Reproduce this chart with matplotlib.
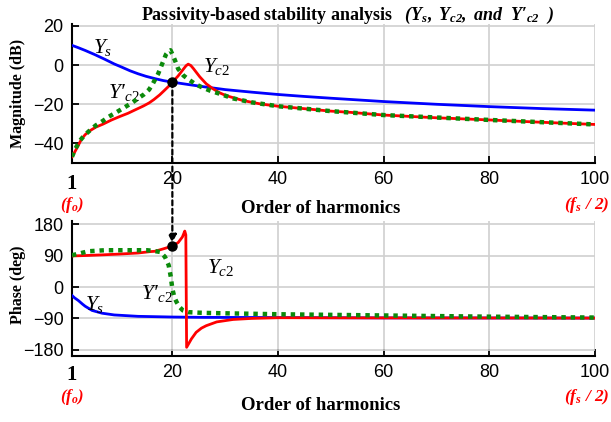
import matplotlib
matplotlib.use("Agg")
import matplotlib.pyplot as plt
from matplotlib.patches import ConnectionPatch

plt.rcParams['mathtext.fontset'] = 'custom'
plt.rcParams['mathtext.rm'] = 'Liberation Serif'
plt.rcParams['mathtext.it'] = 'Liberation Serif:italic'
plt.rcParams['mathtext.bf'] = 'Liberation Serif:bold'
plt.rcParams['mathtext.bfit'] = 'Liberation Serif:bold:italic'

# ---- data ----
ys_mag_h = [1, 2.2, 3.5, 5.3, 7.2, 9, 10.4, 12, 13.5, 15, 16.7, 18.3, 20, 23, 26.1, 30, 35, 40, 45, 50, 60, 70, 80, 90, 100]
ys_mag = [10.1, 8.9, 7.5, 5.4, 3.0, 0.6, -1.0, -2.9, -4.4, -5.7, -6.9, -7.9, -8.7, -9.9, -11.1, -12.5, -13.8, -15.0, -16.0, -16.9, -18.6, -20.0, -21.2, -22.2, -23.0]

yc2_mag_h = [1, 1.5, 2, 2.8, 3.5, 4.4, 5.5, 6.9, 8.5, 10, 11.6, 13, 14.5, 15.6, 16.5, 17.6, 18.5, 19.3, 20, 21.1, 22.1, 22.6, 23, 23.5, 24, 25.2, 26.4, 27.7, 29, 30.2, 33.4, 36.6, 40, 44, 50, 53.6, 60, 70, 80, 90, 100]
yc2_mag = [-46.8, -44.5, -42.0, -37.8, -35.5, -33.5, -31.7, -30.1, -28.0, -26.3, -24.6, -22.8, -20.9, -19.3, -17.6, -15.2, -12.9, -10.8, -8.7, -5.5, -2.0, -0.3, 0.5, -0.2, -1.8, -6.0, -9.5, -12.1, -14.2, -15.6, -18.1, -19.8, -21.0, -22.0, -23.5, -24.1, -25.5, -26.9, -28.0, -29.2, -30.3]

yc2p_mag_h = [1, 1.6, 2.5, 3.3, 4.4, 5.5, 6.9, 8, 9.4, 11, 12.5, 13.5, 14.6, 15.6, 16.3, 17.3, 18.2, 18.8, 19.3, 19.65, 20.1, 20.5, 21.1, 22.1, 23, 24.3, 25.5, 27.1, 28.7, 31.5, 35, 40, 50, 60, 80, 100]
yc2p_mag = [-46.8, -42.9, -38.6, -36.0, -33.3, -30.8, -28.4, -26.3, -24.1, -21.5, -19.0, -17.0, -15.0, -12.5, -9.5, -4.5, 1.5, 5.5, 7.2, 7.6, 5.0, 2.4, -1.9, -5.3, -7.2, -9.6, -11.2, -13.0, -14.4, -17.0, -19.0, -21.0, -23.5, -25.5, -28.0, -30.3]

ys_ph_h = [1, 1.5, 2.2, 3, 3.5, 4.8, 6.7, 9, 13.5, 20, 26, 40, 60, 100]
ys_ph = [-24, -31, -38.5, -49, -55, -67, -75, -80, -84, -86, -87, -87.5, -88.5, -89]

yc2_ph_h = [1, 4, 7.2, 10, 13.5, 15.8, 16.7, 18.3, 20, 21.1, 21.9, 22.35, 22.55, 22.7, 23.6, 24.5, 25.5, 26.4, 28.4, 31.5, 35, 40, 60, 100]
yc2_ph = [89.5, 91, 93, 95, 98, 102, 103, 110, 118, 128, 144, 161, 150, -173, -149, -130, -118, -111, -100, -93, -90, -88, -88.5, -89]

yc2p_ph_h = [1, 2.5, 4.1, 7.2, 13.5, 15.2, 16.5, 17.7, 18.6, 19.3, 19.7, 20.0, 20.4, 20.8, 21.4, 22, 23, 25.8, 29, 40, 60, 80, 100]
yc2p_ph = [91.5, 97, 103, 106, 106, 106, 104, 101, 87, 63, 30, -5, -30, -43, -58, -67, -72, -74, -75, -78, -81.5, -85, -87.5]

x_ticks = [20, 40, 60, 80, 100]
mag_ticks = [20, 0, -20, -40]
ph_ticks = [180, 90, 0, -90, -180]
h_mark = 20
mark_mag = -8.7
mark_ph = 118

# ---- figure ----
fig = plt.figure(figsize=(6.11, 4.22), dpi=100)
ax1 = fig.add_axes([0.1178, 0.6137, 0.8560, 0.3294])
ax2 = fig.add_axes([0.1178, 0.1564, 0.8560, 0.3199])

blue = '#0000ff'
red = '#ff0000'
green = '#0b8a0b'

def style(ax, yt, ylim):
    ax.set_xlim(1, 100)
    ax.set_ylim(*ylim)
    ax.set_xticks(x_ticks)
    ax.set_yticks(yt)
    ax.grid(True, color='#d0d0d0', lw=1.2)
    ax.set_axisbelow(True)
    for s in ['top', 'right']:
        ax.spines[s].set_visible(False)
    for s in ['left', 'bottom']:
        ax.spines[s].set_linewidth(1.5)
    ax.tick_params(direction='in', length=5, width=1.3, labelsize=13, pad=6)
    for lab in ax.get_xticklabels() + ax.get_yticklabels():
        lab.set_fontfamily('Liberation Sans')

style(ax1, mag_ticks, (-50, 21))
style(ax2, ph_ticks, (-198, 190))

ax1.plot(ys_mag_h, ys_mag, color=blue, lw=2.0, zorder=3)
ax1.plot(yc2_mag_h, yc2_mag, color=red, lw=2.0, zorder=3)
ax1.plot(yc2p_mag_h, yc2p_mag, color=green, lw=3.2, ls=(0, (1, 1.1)), zorder=4)

ax2.plot(ys_ph_h, ys_ph, color=blue, lw=2.0, zorder=3)
ax2.plot(yc2_ph_h, yc2_ph, color=red, lw=2.0, zorder=3)
ax2.plot(yc2p_ph_h, yc2p_ph, color=green, lw=3.2, ls=(0, (1, 1.1)), zorder=4)

ax1.plot([h_mark], [mark_mag], 'o', color='black', ms=6.5, zorder=6)
ax2.plot([h_mark], [mark_ph], 'o', color='black', ms=6.5, zorder=6)

con = ConnectionPatch(xyA=(h_mark, mark_mag), coordsA=ax1.transData,
                      xyB=(h_mark, mark_ph + 9), coordsB=ax2.transData,
                      arrowstyle='-|>', mutation_scale=12, ls=(0, (2.2, 1.6)),
                      lw=1.6, color='black', zorder=5)
fig.add_artist(con)

# curve labels
lab_kw = dict(fontsize=15.5, color='black', ha='center', va='center',
              family='Liberation Serif', style='italic')
prime_lab = r"$Y$" + "\u2032" + r"${}_{\mathit{c2}}$"
ax1.text(6.9, 9.0, r'$Y_s$', **lab_kw)
ax1.text(28.4, -0.6, r'$Y_{\mathit{c2}}$', **lab_kw)
ax1.text(10.9, -13.8, prime_lab, **lab_kw)
ax2.text(5.3, -50, r'$Y_s$', **lab_kw)
ax2.text(29.2, 55, r'$Y_{\mathit{c2}}$', **lab_kw)
ax2.text(17.1, -17, prime_lab, **lab_kw)

# axis labels
fig.text(18 / 611, 1 - 93.5 / 422, 'Magnitude (dB)', rotation=90, ha='center', va='center',
         fontsize=11.5, fontweight='bold', family='Liberation Serif')
fig.text(18 / 611, 1 - 285 / 422, 'Phase (deg)', rotation=90, ha='center', va='center',
         fontsize=11.5, fontweight='bold', family='Liberation Serif')
fig.text(321 / 611, 1 - 208.5 / 422, 'Order of harmonics', ha='center', va='center',
         fontsize=13.5, fontweight='bold', family='Liberation Serif')
fig.text(321 / 611, 1 - 406 / 422, 'Order of harmonics', ha='center', va='center',
         fontsize=13.5, fontweight='bold', family='Liberation Serif')

for yc1, yc2 in [(184, 205), (375, 397)]:
    fig.text(72 / 611, 1 - yc1 / 422, '1', ha='center', va='center',
             fontsize=15, fontweight='bold', family='Liberation Serif')
    fig.text(72 / 611, 1 - yc2 / 422, r'$\mathbfit{(f_o)}$', ha='center', va='center',
             fontsize=12, color=red)
    fig.text(609 / 611, 1 - yc2 / 422, r'$\mathbfit{(f_s\ /\ 2)}$', ha='right', va='center',
             fontsize=12.5, color=red)

title = ('Passivity-based stability analysis   '
         + r'$\mathbfit{(Y_s,\ Y_{c2},\ and\ \ Y}$' + '\u2032' + r'$\mathbfit{{}_{c2}\ \ )}$')
fig.text(348 / 611, 1 - 15 / 422, title,
         ha='center', va='center', fontsize=13, fontweight='bold', family='Liberation Serif')

fig.savefig('out.png', dpi=100)
